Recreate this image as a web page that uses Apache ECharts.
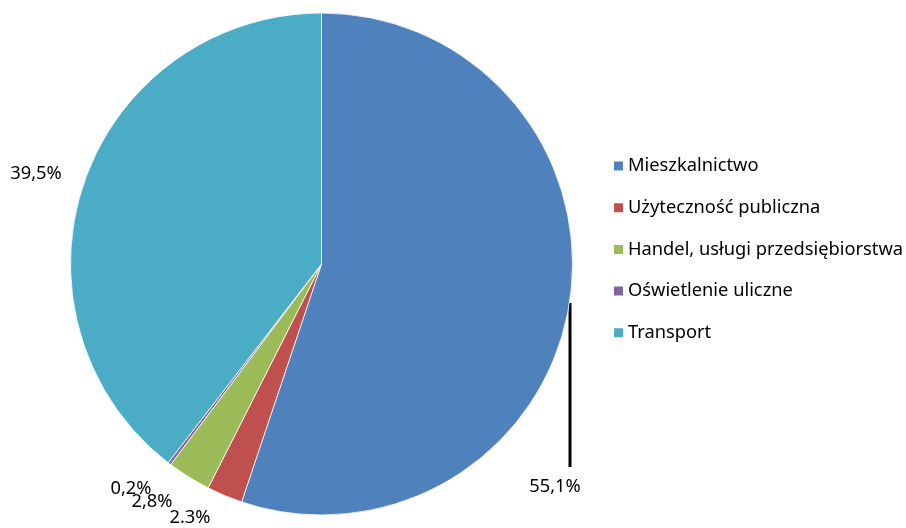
<!DOCTYPE html>
<html><head><meta charset="utf-8">
<script src="https://cdn.jsdelivr.net/npm/echarts@6/dist/echarts.min.js"></script>
<style>html,body{margin:0;padding:0;background:#fff}#c{width:906px;height:528px}</style>
</head><body><div id="c"></div>
<script>
const categories = ['Mieszkalnictwo','Użyteczność publiczna','Handel, usługi przedsiębiorstwa','Oświetlenie uliczne','Transport'];
const values = [55.1, 2.3, 2.8, 0.2, 39.5];
const labelTexts = ['55,1%','2.3%','2,8%','0,2%','39,5%'];
const colors = ['#4F81BD','#C0504D','#9BBB59','#8064A2','#4BACC6'];

const labelPos = [[555,487],[190,518],[152,502],[131,489],[36,174]];
const FONT = 'Noto Sans, sans-serif';
const chart = echarts.init(document.getElementById('c'));
chart.setOption({
  animation:false,
  color: colors,
  legend:{
    orient:'vertical', left:612, top:156, padding:0,
    itemWidth:11, itemHeight:11, itemGap:21.7, icon:'rect',
    textStyle:{fontFamily:FONT,fontSize:18.3,lineHeight:20,color:'#000',padding:[0,0,0,-1]},
    data: categories
  },
  series:[{
    type:'pie', center:[321.5,264], radius:[0,251], startAngle:90, clockwise:true,
    avoidLabelOverlap:false,
    itemStyle:{borderColor:'#fff',borderWidth:0.8},
    data: categories.map((n,i)=>({name:n,value:values[i],
      labelLine:{show:i===0,lineStyle:{color:'#000',width:3}}})),
    label:{show:true,position:'outside',fontFamily:FONT,fontSize:18.3,color:'#000',
      formatter:p=>labelTexts[p.dataIndex]},
    labelLine:{show:true,length:5,length2:5},
    labelLayout:function(p){
      const pos=labelPos[p.dataIndex];
      const r={x:pos[0],y:pos[1],align:'center',verticalAlign:'middle'};
      if(p.dataIndex===0){r.labelLinePoints=[[570,303],[570,385],[570,467]];}
      return r;
    }
  }]
});
</script></body></html>
